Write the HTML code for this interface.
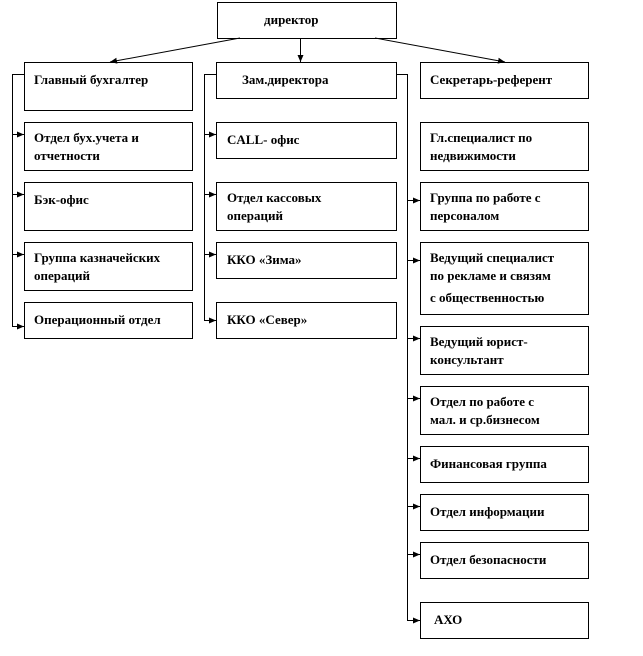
<!DOCTYPE html>
<html><head><meta charset="utf-8"><style>
body{margin:0;background:#fff;width:643px;height:651px;overflow:hidden}
svg text{font-family:"Liberation Serif",serif;font-weight:bold;font-size:13px;fill:#000}
</style></head><body>
<svg width="643" height="651" viewBox="0 0 643 651" xmlns="http://www.w3.org/2000/svg">
<defs><marker id="a" markerWidth="8" markerHeight="8" refX="7" refY="4" orient="auto" markerUnits="userSpaceOnUse"><path d="M0,1 L7,4 L0,7z" fill="#000"/></marker></defs>
<g fill="none" stroke="#000" stroke-width="1">
<rect x="217.5" y="2.5" width="179" height="36"/>
<rect x="24.5" y="62.5" width="168" height="48"/>
<rect x="24.5" y="122.5" width="168" height="48"/>
<rect x="24.5" y="182.5" width="168" height="48"/>
<rect x="24.5" y="242.5" width="168" height="48"/>
<rect x="24.5" y="302.5" width="168" height="36"/>
<rect x="216.5" y="62.5" width="180" height="36"/>
<rect x="216.5" y="122.5" width="180" height="36"/>
<rect x="216.5" y="182.5" width="180" height="48"/>
<rect x="216.5" y="242.5" width="180" height="36"/>
<rect x="216.5" y="302.5" width="180" height="36"/>
<rect x="420.5" y="62.5" width="168" height="36"/>
<rect x="420.5" y="122.5" width="168" height="48"/>
<rect x="420.5" y="182.5" width="168" height="48"/>
<rect x="420.5" y="242.5" width="168" height="72"/>
<rect x="420.5" y="326.5" width="168" height="48"/>
<rect x="420.5" y="386.5" width="168" height="48"/>
<rect x="420.5" y="446.5" width="168" height="36"/>
<rect x="420.5" y="494.5" width="168" height="36"/>
<rect x="420.5" y="542.5" width="168" height="36"/>
<rect x="420.5" y="602.5" width="168" height="36"/>
<line x1="240" y1="38" x2="110" y2="62" marker-end="url(#a)"/>
<line x1="300.5" y1="38" x2="300.5" y2="62" marker-end="url(#a)"/>
<line x1="375" y1="38" x2="505" y2="62" marker-end="url(#a)"/>
<polyline points="24,74.5 12.5,74.5 12.5,326.5"/>
<line x1="12" y1="134.5" x2="24" y2="134.5" marker-end="url(#a)"/>
<line x1="12" y1="194.5" x2="24" y2="194.5" marker-end="url(#a)"/>
<line x1="12" y1="254.5" x2="24" y2="254.5" marker-end="url(#a)"/>
<line x1="12" y1="326.5" x2="24" y2="326.5" marker-end="url(#a)"/>
<polyline points="216,74.5 204.5,74.5 204.5,320.5"/>
<line x1="204" y1="134.5" x2="216" y2="134.5" marker-end="url(#a)"/>
<line x1="204" y1="194.5" x2="216" y2="194.5" marker-end="url(#a)"/>
<line x1="204" y1="254.5" x2="216" y2="254.5" marker-end="url(#a)"/>
<line x1="204" y1="320.5" x2="216" y2="320.5" marker-end="url(#a)"/>
<polyline points="396,74.5 407.5,74.5 407.5,620.5"/>
<line x1="407" y1="200.5" x2="420" y2="200.5" marker-end="url(#a)"/>
<line x1="407" y1="260.5" x2="420" y2="260.5" marker-end="url(#a)"/>
<line x1="407" y1="338.5" x2="420" y2="338.5" marker-end="url(#a)"/>
<line x1="407" y1="398.5" x2="420" y2="398.5" marker-end="url(#a)"/>
<line x1="407" y1="458.5" x2="420" y2="458.5" marker-end="url(#a)"/>
<line x1="407" y1="506.5" x2="420" y2="506.5" marker-end="url(#a)"/>
<line x1="407" y1="554.5" x2="420" y2="554.5" marker-end="url(#a)"/>
<line x1="407" y1="620.5" x2="420" y2="620.5" marker-end="url(#a)"/>
</g>
<text x="264" y="24">директор</text>
<text x="34" y="84">Главный бухгалтер</text>
<text x="34" y="142">Отдел бух.учета и</text><text x="34" y="160">отчетности</text>
<text x="34" y="204">Бэк-офис</text>
<text x="34" y="262">Группа казначейских</text><text x="34" y="280">операций</text>
<text x="34" y="324">Операционный отдел</text>
<text x="242" y="84">Зам.директора</text>
<text x="227" y="144">CALL- офис</text>
<text x="227" y="202">Отдел кассовых</text><text x="227" y="220">операций</text>
<text x="227" y="264">ККО «Зима»</text>
<text x="227" y="324">ККО «Север»</text>
<text x="430" y="84">Секретарь-референт</text>
<text x="430" y="142">Гл.специалист по</text><text x="430" y="160">недвижимости</text>
<text x="430" y="202">Группа по работе с</text><text x="430" y="220">персоналом</text>
<text x="430" y="262">Ведущий специалист</text><text x="430" y="280">по рекламе и связям</text><text x="430" y="302">с общественностью</text>
<text x="430" y="346">Ведущий юрист-</text><text x="430" y="364">консультант</text>
<text x="430" y="406">Отдел по работе с</text><text x="430" y="424">мал. и ср.бизнесом</text>
<text x="430" y="468">Финансовая группа</text>
<text x="430" y="516">Отдел информации</text>
<text x="430" y="564">Отдел безопасности</text>
<text x="434" y="624">АХО</text>
</svg>
</body></html>
